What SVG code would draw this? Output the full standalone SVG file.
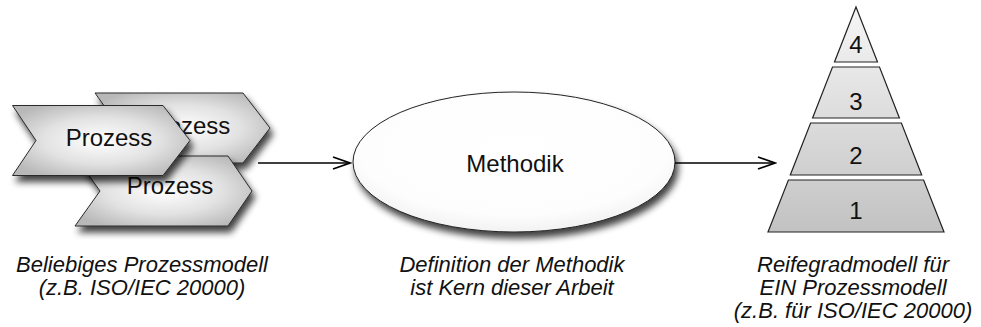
<svg xmlns="http://www.w3.org/2000/svg" width="981" height="327" viewBox="0 0 981 327">
<style>
  .lbl { font-family: "Liberation Sans", Arial, sans-serif; font-size: 24px; fill: #111; text-anchor: middle; }
  .cap { font-family: "Liberation Sans", Arial, sans-serif; font-size: 22px; font-style: italic; fill: #111; text-anchor: middle; }
  .chev { fill: url(#chevGrad); stroke: #2a2a2a; stroke-width: 1; filter: url(#shadow); }
  .lvl { fill: url(#pyrGrad); stroke: #222; stroke-width: 1.2; }
  .conn { stroke: #000; stroke-width: 1.6; fill: none; marker-end: url(#arrow); }
</style>
<defs>
  <radialGradient id="chevGrad" cx="0.5" cy="0.5" r="0.6">
    <stop offset="0" stop-color="#ffffff"/>
    <stop offset="0.55" stop-color="#e2e2e2"/>
    <stop offset="1" stop-color="#b8b8b8"/>
  </radialGradient>
  <radialGradient id="ellGrad" cx="0.5" cy="0.4" r="0.6">
    <stop offset="0" stop-color="#ffffff"/>
    <stop offset="0.8" stop-color="#fdfdfd"/>
    <stop offset="1" stop-color="#f2f2f2"/>
  </radialGradient>
  <linearGradient id="pyrGrad" gradientUnits="userSpaceOnUse" x1="0" y1="7" x2="0" y2="232">
    <stop offset="0" stop-color="#f6f6f6"/>
    <stop offset="1" stop-color="#c2c2c2"/>
  </linearGradient>
  <filter id="shadow" x="-20%" y="-20%" width="150%" height="160%">
    <feGaussianBlur in="SourceAlpha" stdDeviation="3.5"/>
    <feOffset dx="3" dy="6" result="b"/>
    <feComponentTransfer><feFuncA type="linear" slope="0.75"/></feComponentTransfer>
    <feMerge><feMergeNode/><feMergeNode in="SourceGraphic"/></feMerge>
  </filter>
  <marker id="arrow" viewBox="0 0 20 14" refX="18" refY="7" markerWidth="20" markerHeight="14" markerUnits="userSpaceOnUse" orient="auto">
    <path d="M1,1 L18,7 L1,13" fill="none" stroke="#000" stroke-width="1.8"/>
  </marker>
</defs>

<g id="prozess-back">
  <polygon class="chev" points="95,93 243,93 270,128 243,163 95,163 120,128"/>
  <text class="lbl" x="187" y="134">Prozess</text>
</g>
<g id="prozess-bottom">
  <polygon class="chev" points="75,156 228,156 252,191 228,226 75,226 100,191"/>
  <text class="lbl" x="170" y="194">Prozess</text>
</g>
<g id="prozess-front">
  <polygon class="chev" points="12.5,105.5 163,105.5 190,140.5 163,175.5 12.5,175.5 36,140.5"/>
  <text class="lbl" x="109" y="146">Prozess</text>
</g>

<g id="methodik">
  <ellipse cx="514" cy="162" rx="161" ry="70" fill="url(#ellGrad)" stroke="#222" stroke-width="1" filter="url(#shadow)"/>
  <text class="lbl" x="515" y="172">Methodik</text>
</g>

<g id="reifegradmodell">
  <g id="level-4">
    <polygon class="lvl" points="856,7 877.5,62 834.5,62"/>
    <text class="lbl" x="856" y="53">4</text>
  </g>
  <g id="level-3">
    <polygon class="lvl" points="832.5,67 879.5,67 899.4,118 812.6,118"/>
    <text class="lbl" x="856" y="110">3</text>
  </g>
  <g id="level-2">
    <polygon class="lvl" points="810.6,123 901.4,123 921.7,175 790.3,175"/>
    <text class="lbl" x="856" y="164">2</text>
  </g>
  <g id="level-1">
    <polygon class="lvl" points="788.4,180 923.6,180 944,232 768,232"/>
    <text class="lbl" x="856" y="219">1</text>
  </g>
</g>

<g id="connectors">
  <line class="conn" x1="258" y1="163" x2="350" y2="163"/>
  <line class="conn" x1="675" y1="163" x2="775" y2="163"/>
</g>

<g id="captions">
  <text class="cap" x="142" y="272">Beliebiges Prozessmodell</text>
  <text class="cap" x="142" y="295">(z.B. ISO/IEC 20000)</text>
  <text class="cap" x="512" y="272">Definition der Methodik</text>
  <text class="cap" x="512" y="295">ist Kern dieser Arbeit</text>
  <text class="cap" x="853" y="272">Reifegradmodell für</text>
  <text class="cap" x="853" y="295">EIN Prozessmodell</text>
  <text class="cap" x="853" y="318">(z.B. für ISO/IEC 20000)</text>
</g>
</svg>
